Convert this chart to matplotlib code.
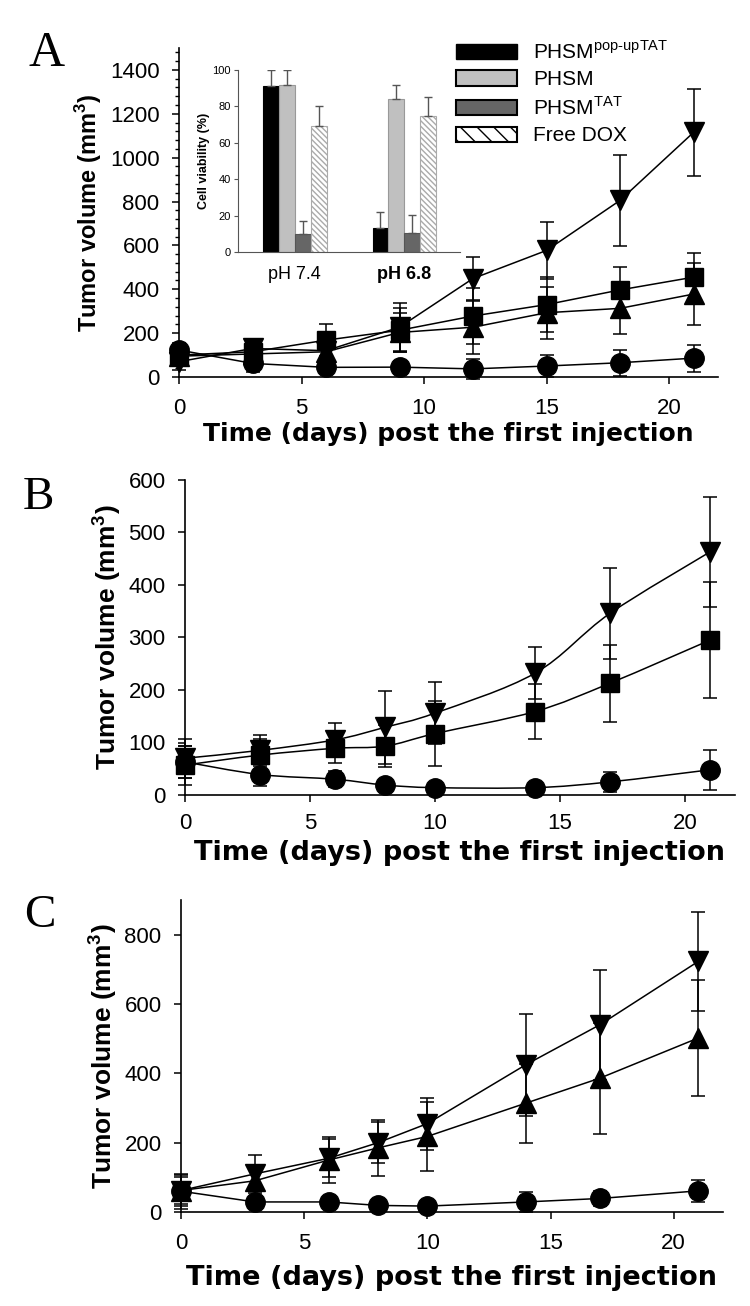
import matplotlib
matplotlib.use("Agg")
import matplotlib.pyplot as plt
import numpy as np
from matplotlib.patches import Patch, PathPatch
from matplotlib.path import Path
from matplotlib.ticker import MultipleLocator

plt.rcParams['font.family'] = ['Liberation Sans', 'DejaVu Sans']
plt.rcParams['mathtext.fontset'] = 'custom'
plt.rcParams['mathtext.rm'] = 'Liberation Sans'
plt.rcParams['mathtext.bf'] = 'Liberation Sans:bold'

# panel A: tumor volume
days_a = [0, 3, 6, 9, 12, 15, 18, 21]
a_circle = [123, 62, 44, 45, 37, 50, 65, 86]
a_circle_err = [30, 40, 25, 30, 45, 52, 60, 62]
a_square = [100, 115, 168, 213, 278, 330, 397, 455]
a_square_err = [40, 38, 72, 100, 126, 125, 104, 110]
a_up = [95, 105, 115, 203, 227, 293, 313, 378]
a_up_err = [35, 40, 50, 90, 120, 118, 115, 140]
a_down = [70, 130, 120, 227, 449, 577, 805, 1115]
a_down_err = [40, 38, 45, 110, 100, 128, 209, 200]

# panel A inset: cell viability
ph_labels = ['pH 7.4', 'pH 6.8']
bar_names = ['PHSM$^{\\text{pop-upTAT}}$', 'PHSM', 'PHSM$^{\\text{TAT}}$', 'Free DOX']
via_popup = [91, 13]
via_popup_err = [9, 9]
via_phsm = [92, 84]
via_phsm_err = [8, 7.5]
via_tat = [10, 10.5]
via_tat_err = [7, 10]
via_dox = [69.5, 75]
via_dox_err = [10.5, 10]

# panel B
days_b = [0, 3, 6, 8, 10, 14, 17, 21]
b_circle = [63, 39, 30, 19, 14, 14, 25, 48]
b_circle_err = [30, 22, 15, 10, 8, 8, 19, 38]
b_square = [57, 76, 89, 93, 117, 159, 213, 295]
b_square_err = [37, 30, 28, 40, 62, 53, 73, 111]
b_down = [70, 85, 105, 129, 156, 232, 346, 463]
b_down_err = [37, 29, 32, 70, 59, 49, 87, 105]

# panel C
days_c = [0, 3, 6, 8, 10, 14, 17, 21]
c_circle = [60, 29, 29, 19, 17, 29, 39, 61]
c_circle_err = [50, 10, 10, 8, 8, 28, 22, 31]
c_up = [62, 90, 150, 185, 218, 314, 386, 502]
c_up_err = [40, 30, 65, 80, 100, 114, 160, 168]
c_down = [62, 110, 155, 200, 255, 425, 540, 723]
c_down_err = [45, 55, 55, 60, 75, 147, 158, 143]

W, H = 750, 1306
fig = plt.figure(figsize=(W / 100, H / 100), dpi=100)


def box(l, t, r, b):
    return [l / W, 1 - b / H, (r - l) / W, (b - t) / H]


def series(ax, x, y, e, marker, ms, line=True):
    ax.errorbar(x, y, yerr=e, fmt=marker, ls='-' if line else 'none', color='black',
                ms=ms, lw=1.1, elinewidth=1.1, capsize=5, capthick=1.1, clip_on=False)


def smooth_line(ax, x, y):
    # Catmull-Rom spline through the points, drawn as cubic Bezier segments
    p = np.column_stack([x, y]).astype(float)
    ext = np.vstack([p[0], p, p[-1]])
    verts = [p[0]]
    codes = [Path.MOVETO]
    for i in range(len(p) - 1):
        a, b, c, d = ext[i], ext[i + 1], ext[i + 2], ext[i + 3]
        verts += [b + (c - a) / 6, c - (d - b) / 6, c]
        codes += [Path.CURVE4] * 3
    ax.add_patch(PathPatch(Path(verts, codes), facecolor='none', edgecolor='black',
                           lw=1.1, clip_on=False))


def style(ax, ymax, ystep, tick_size, xpad):
    for s in ['top', 'right']:
        ax.spines[s].set_visible(False)
    for s in ['left', 'bottom']:
        ax.spines[s].set_linewidth(1.2)
    ax.set_xlim(0, 22)
    ax.set_ylim(0, ymax)
    ax.set_xticks([0, 5, 10, 15, 20])
    ax.yaxis.set_major_locator(MultipleLocator(ystep))
    ax.tick_params(direction='out', length=5, width=1.1, labelsize=tick_size)
    ax.tick_params(axis='x', pad=xpad)
    ax.tick_params(axis='y', pad=9)


xlabel = 'Time (days) post the first injection'
ylabel = 'Tumor volume (mm$^\\mathbf{3}$)'
serif = ['Liberation Serif', 'DejaVu Serif']

# ---- panel A
ax = fig.add_axes(box(179, 48, 718, 377))
series(ax, days_a, a_down, a_down_err, 'v', 15)
series(ax, days_a, a_up, a_up_err, '^', 15)
series(ax, days_a, a_square, a_square_err, 's', 12.5)
series(ax, days_a, a_circle, a_circle_err, 'o', 14)
style(ax, 1500, 200, 16, 10)
ax.set_yticks(np.arange(0, 1401, 200))
ax.yaxis.set_minor_locator(MultipleLocator(40))
ax.tick_params(axis='y', which='minor', direction='out', length=3, width=1)
ax.set_xlabel(xlabel, family='DejaVu Sans', fontsize=18, fontweight='bold', labelpad=2)
ax.set_ylabel(ylabel, fontsize=17, fontweight='bold', labelpad=4)
fig.text(47 / W, 1 - 54 / H, 'A', family=serif, fontsize=36, ha='center', va='center')

# inset bars
ins = fig.add_axes(box(238, 70, 460, 252))
ins.set_facecolor('none')
pos = np.arange(len(ph_labels))
w = 0.145
vals = [via_popup, via_phsm, via_tat, via_dox]
errs = [via_popup_err, via_phsm_err, via_tat_err, via_dox_err]
colors = ['black', '#c0c0c0', '#666666', 'white']
edges = ['black', '#999999', '#555555', '#aaaaaa']
hatches = [None, None, None, '\\\\\\\\\\\\']
for i in range(4):
    ins.bar(pos + (i - 1.5) * w, vals[i], w, color=colors[i], edgecolor=edges[i],
            linewidth=0.8, hatch=hatches[i],
            yerr=[np.zeros(2), errs[i]], ecolor='#555555',
            error_kw=dict(elinewidth=1, capsize=3, capthick=1))
for s in ['top', 'right']:
    ins.spines[s].set_visible(False)
for s in ['left', 'bottom']:
    ins.spines[s].set_color('#555555')
ins.set_xlim(-0.52, 1.51)
ins.set_ylim(0, 100)
ins.set_yticks(np.arange(0, 101, 20))
ins.set_xticks(pos)
ins.set_xticklabels(ph_labels, fontsize=13)
ins.get_xticklabels()[1].set_fontweight('bold')
ins.tick_params(axis='x', length=0, pad=10)
ins.tick_params(axis='y', labelsize=8, length=3, color='#555555', pad=2)
ins.set_ylabel('Cell viability (%)', fontsize=9, fontweight='bold', labelpad=2)

handles = [Patch(facecolor='black', edgecolor='black'),
           Patch(facecolor='#c0c0c0', edgecolor='black', linewidth=1.5),
           Patch(facecolor='#666666', edgecolor='black', linewidth=1.5),
           Patch(facecolor='white', edgecolor='black', linewidth=1.5, hatch='\\\\')]
fig.legend(handles, bar_names, loc='upper left', bbox_to_anchor=(448 / W, 1 - 32 / H),
           frameon=False, fontsize=15, handlelength=2.9, handleheight=0.75,
           labelspacing=0.35, handletextpad=0.8, borderaxespad=0)

# ---- panel B
ax = fig.add_axes(box(185, 480, 735, 795))
smooth_line(ax, days_b, b_down)
smooth_line(ax, days_b, b_square)
smooth_line(ax, days_b, b_circle)
series(ax, days_b, b_down, b_down_err, 'v', 15, line=False)
series(ax, days_b, b_square, b_square_err, 's', 13, line=False)
series(ax, days_b, b_circle, b_circle_err, 'o', 14, line=False)
style(ax, 600, 100, 16, 8)
ax.set_xlabel(xlabel, family='DejaVu Sans', fontsize=19.5, fontweight='bold', labelpad=4)
ax.set_ylabel(ylabel, fontsize=19, fontweight='bold', labelpad=4)
fig.text(38 / W, 1 - 498 / H, 'B', family=serif, fontsize=34, ha='center', va='center')

# ---- panel C
ax = fig.add_axes(box(181, 900, 723, 1212))
series(ax, days_c, c_down, c_down_err, 'v', 15)
series(ax, days_c, c_up, c_up_err, '^', 15)
series(ax, days_c, c_circle, c_circle_err, 'o', 14)
style(ax, 900, 200, 16, 10)
ax.set_xlabel(xlabel, family='DejaVu Sans', fontsize=19.5, fontweight='bold', labelpad=8)
ax.set_ylabel(ylabel, fontsize=19, fontweight='bold', labelpad=4)
fig.text(40 / W, 1 - 916 / H, 'C', family=serif, fontsize=34, ha='center', va='center')

fig.savefig('out.png', dpi=100, facecolor='white')
